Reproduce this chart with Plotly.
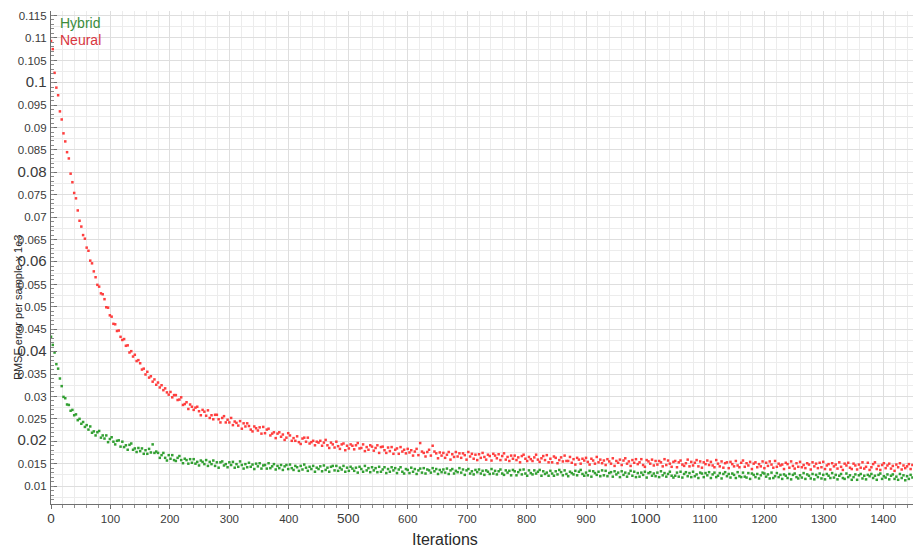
import plotly.graph_objects as go

# ---------------- data (sampled every 3 iterations) ----------------
iteration_step = 3

neural = [
    0.1093, 0.1075, 0.1022, 0.0989, 0.0972, 0.0936, 0.0918, 0.0887, 0.0869, 0.0845,
    0.0831, 0.0797, 0.0778, 0.0754, 0.0742, 0.0715, 0.0692, 0.0679, 0.0660, 0.0652,
    0.0632, 0.0625, 0.0603, 0.0597, 0.0579, 0.0566, 0.0549, 0.0545, 0.0530, 0.0528,
    0.0517, 0.0499, 0.0498, 0.0481, 0.0478, 0.0462, 0.0461, 0.0446, 0.0447, 0.0433,
    0.0426, 0.0428, 0.0413, 0.0414, 0.0398, 0.0401, 0.0389, 0.0393, 0.0379, 0.0381,
    0.0374, 0.0360, 0.0362, 0.0349, 0.0355, 0.0342, 0.0345, 0.0333, 0.0338, 0.0326,
    0.0331, 0.0320, 0.0325, 0.0314, 0.0318, 0.0309, 0.0304, 0.0310, 0.0298, 0.0303,
    0.0303, 0.0292, 0.0293, 0.0298, 0.0281, 0.0283, 0.0287, 0.0272, 0.0282, 0.0277,
    0.0270, 0.0275, 0.0277, 0.0267, 0.0258, 0.0270, 0.0266, 0.0257, 0.0269, 0.0252,
    0.0258, 0.0249, 0.0259, 0.0259, 0.0249, 0.0242, 0.0252, 0.0256, 0.0242, 0.0248,
    0.0242, 0.0252, 0.0236, 0.0244, 0.0241, 0.0235, 0.0245, 0.0228, 0.0240, 0.0233,
    0.0240, 0.0234, 0.0226, 0.0222, 0.0233, 0.0229, 0.0224, 0.0231, 0.0217, 0.0232,
    0.0218, 0.0226, 0.0228, 0.0213, 0.0217, 0.0220, 0.0207, 0.0217, 0.0220, 0.0210,
    0.0215, 0.0203, 0.0208, 0.0218, 0.0213, 0.0201, 0.0207, 0.0201, 0.0211, 0.0198,
    0.0194, 0.0206, 0.0208, 0.0199, 0.0208, 0.0195, 0.0198, 0.0201, 0.0191, 0.0199,
    0.0197, 0.0201, 0.0190, 0.0197, 0.0203, 0.0191, 0.0185, 0.0197, 0.0193, 0.0186,
    0.0199, 0.0189, 0.0183, 0.0193, 0.0195, 0.0180, 0.0190, 0.0184, 0.0193, 0.0190,
    0.0182, 0.0191, 0.0196, 0.0184, 0.0185, 0.0193, 0.0178, 0.0187, 0.0181, 0.0191,
    0.0188, 0.0179, 0.0185, 0.0191, 0.0174, 0.0187, 0.0188, 0.0180, 0.0174, 0.0186,
    0.0178, 0.0187, 0.0172, 0.0181, 0.0184, 0.0172, 0.0187, 0.0177, 0.0181, 0.0173,
    0.0183, 0.0175, 0.0180, 0.0168, 0.0177, 0.0183, 0.0169, 0.0196, 0.0177, 0.0174,
    0.0166, 0.0176, 0.0181, 0.0168, 0.0190, 0.0177, 0.0173, 0.0162, 0.0175, 0.0168,
    0.0174, 0.0163, 0.0170, 0.0176, 0.0159, 0.0171, 0.0165, 0.0176, 0.0166, 0.0173,
    0.0163, 0.0173, 0.0169, 0.0159, 0.0176, 0.0166, 0.0172, 0.0161, 0.0170, 0.0158,
    0.0171, 0.0163, 0.0174, 0.0165, 0.0159, 0.0170, 0.0167, 0.0157, 0.0172, 0.0168,
    0.0162, 0.0171, 0.0158, 0.0167, 0.0173, 0.0159, 0.0165, 0.0156, 0.0168, 0.0161,
    0.0168, 0.0158, 0.0164, 0.0153, 0.0167, 0.0170, 0.0161, 0.0156, 0.0165, 0.0160,
    0.0156, 0.0164, 0.0170, 0.0159, 0.0154, 0.0162, 0.0167, 0.0158, 0.0169, 0.0153,
    0.0161, 0.0153, 0.0166, 0.0163, 0.0151, 0.0158, 0.0164, 0.0155, 0.0168, 0.0156,
    0.0156, 0.0165, 0.0152, 0.0160, 0.0148, 0.0163, 0.0159, 0.0150, 0.0161, 0.0157,
    0.0163, 0.0154, 0.0148, 0.0161, 0.0157, 0.0150, 0.0165, 0.0153, 0.0159, 0.0151,
    0.0157, 0.0147, 0.0160, 0.0155, 0.0150, 0.0162, 0.0145, 0.0156, 0.0152, 0.0159,
    0.0147, 0.0157, 0.0162, 0.0150, 0.0155, 0.0145, 0.0158, 0.0152, 0.0160, 0.0149,
    0.0153, 0.0160, 0.0147, 0.0143, 0.0158, 0.0155, 0.0150, 0.0159, 0.0146, 0.0156,
    0.0148, 0.0156, 0.0153, 0.0144, 0.0160, 0.0147, 0.0157, 0.0150, 0.0143, 0.0154,
    0.0156, 0.0142, 0.0153, 0.0157, 0.0148, 0.0145, 0.0151, 0.0159, 0.0144, 0.0154,
    0.0146, 0.0152, 0.0158, 0.0144, 0.0155, 0.0141, 0.0153, 0.0149, 0.0157, 0.0147,
    0.0154, 0.0146, 0.0142, 0.0158, 0.0150, 0.0144, 0.0155, 0.0141, 0.0151, 0.0153,
    0.0140, 0.0154, 0.0149, 0.0144, 0.0156, 0.0146, 0.0142, 0.0152, 0.0157, 0.0143,
    0.0151, 0.0146, 0.0154, 0.0138, 0.0150, 0.0153, 0.0142, 0.0149, 0.0144, 0.0155,
    0.0140, 0.0152, 0.0145, 0.0155, 0.0148, 0.0141, 0.0156, 0.0143, 0.0150, 0.0146,
    0.0148, 0.0138, 0.0152, 0.0149, 0.0141, 0.0155, 0.0145, 0.0139, 0.0151, 0.0143,
    0.0154, 0.0142, 0.0147, 0.0140, 0.0151, 0.0148, 0.0137, 0.0153, 0.0144, 0.0150,
    0.0140, 0.0152, 0.0142, 0.0154, 0.0138, 0.0146, 0.0149, 0.0137, 0.0151, 0.0144,
    0.0148, 0.0139, 0.0153, 0.0143, 0.0136, 0.0150, 0.0146, 0.0152, 0.0141, 0.0138,
    0.0150, 0.0146, 0.0137, 0.0148, 0.0141, 0.0153, 0.0139, 0.0143, 0.0152, 0.0136,
    0.0142, 0.0149, 0.0153, 0.0138, 0.0145, 0.0136, 0.0147, 0.0151, 0.0140, 0.0146,
    0.0150, 0.0139, 0.0145, 0.0134, 0.0148, 0.0142, 0.0151, 0.0137, 0.0146, 0.0140,
    0.0144, 0.0149, 0.0138, 0.0147,
]

hybrid = [
    0.0433, 0.0415, 0.0398, 0.0372, 0.0362, 0.0340, 0.0323, 0.0299, 0.0296, 0.0282,
    0.0281, 0.0268, 0.0270, 0.0258, 0.0260, 0.0247, 0.0250, 0.0239, 0.0243, 0.0232,
    0.0236, 0.0226, 0.0233, 0.0219, 0.0222, 0.0213, 0.0220, 0.0223, 0.0208, 0.0213,
    0.0206, 0.0213, 0.0198, 0.0205, 0.0209, 0.0199, 0.0193, 0.0201, 0.0202, 0.0188,
    0.0199, 0.0187, 0.0191, 0.0181, 0.0192, 0.0195, 0.0181, 0.0184, 0.0176, 0.0185,
    0.0178, 0.0184, 0.0172, 0.0180, 0.0172, 0.0183, 0.0175, 0.0193, 0.0174, 0.0177,
    0.0174, 0.0163, 0.0169, 0.0174, 0.0163, 0.0157, 0.0169, 0.0161, 0.0169, 0.0158,
    0.0156, 0.0163, 0.0167, 0.0158, 0.0151, 0.0161, 0.0158, 0.0150, 0.0160, 0.0152,
    0.0160, 0.0150, 0.0154, 0.0146, 0.0157, 0.0154, 0.0149, 0.0158, 0.0145, 0.0154,
    0.0149, 0.0157, 0.0145, 0.0153, 0.0141, 0.0153, 0.0155, 0.0146, 0.0149, 0.0142,
    0.0153, 0.0147, 0.0154, 0.0141, 0.0149, 0.0143, 0.0155, 0.0147, 0.0139, 0.0149,
    0.0142, 0.0152, 0.0143, 0.0148, 0.0138, 0.0150, 0.0144, 0.0151, 0.0139, 0.0146,
    0.0147, 0.0139, 0.0151, 0.0140, 0.0144, 0.0149, 0.0137, 0.0145, 0.0140, 0.0147,
    0.0136, 0.0144, 0.0147, 0.0138, 0.0148, 0.0140, 0.0136, 0.0145, 0.0142, 0.0134,
    0.0145, 0.0137, 0.0148, 0.0141, 0.0134, 0.0143, 0.0138, 0.0145, 0.0132, 0.0141,
    0.0138, 0.0144, 0.0133, 0.0146, 0.0136, 0.0141, 0.0132, 0.0143, 0.0145, 0.0135,
    0.0145, 0.0134, 0.0141, 0.0137, 0.0145, 0.0132, 0.0141, 0.0134, 0.0143, 0.0139,
    0.0134, 0.0141, 0.0130, 0.0143, 0.0138, 0.0132, 0.0145, 0.0135, 0.0140, 0.0131,
    0.0142, 0.0135, 0.0140, 0.0131, 0.0143, 0.0132, 0.0137, 0.0142, 0.0129, 0.0138,
    0.0132, 0.0142, 0.0135, 0.0140, 0.0129, 0.0137, 0.0142, 0.0132, 0.0128, 0.0138,
    0.0136, 0.0129, 0.0141, 0.0132, 0.0138, 0.0127, 0.0135, 0.0139, 0.0130, 0.0140,
    0.0128, 0.0137, 0.0135, 0.0130, 0.0140, 0.0133, 0.0138, 0.0127, 0.0136, 0.0131,
    0.0137, 0.0130, 0.0139, 0.0127, 0.0135, 0.0138, 0.0128, 0.0134, 0.0131, 0.0140,
    0.0130, 0.0137, 0.0125, 0.0135, 0.0138, 0.0128, 0.0133, 0.0126, 0.0136, 0.0131,
    0.0137, 0.0128, 0.0134, 0.0125, 0.0135, 0.0132, 0.0127, 0.0138, 0.0128, 0.0134,
    0.0126, 0.0133, 0.0137, 0.0128, 0.0125, 0.0135, 0.0130, 0.0134, 0.0124, 0.0136,
    0.0133, 0.0124, 0.0131, 0.0136, 0.0126, 0.0137, 0.0128, 0.0123, 0.0135, 0.0129,
    0.0126, 0.0135, 0.0128, 0.0132, 0.0136, 0.0123, 0.0133, 0.0127, 0.0130, 0.0123,
    0.0134, 0.0128, 0.0123, 0.0133, 0.0126, 0.0136, 0.0131, 0.0124, 0.0135, 0.0127,
    0.0122, 0.0132, 0.0129, 0.0126, 0.0134, 0.0124, 0.0132, 0.0136, 0.0127, 0.0123,
    0.0130, 0.0124, 0.0134, 0.0121, 0.0133, 0.0129, 0.0125, 0.0132, 0.0122, 0.0135,
    0.0124, 0.0134, 0.0122, 0.0129, 0.0131, 0.0121, 0.0133, 0.0126, 0.0130, 0.0120,
    0.0133, 0.0125, 0.0130, 0.0121, 0.0128, 0.0134, 0.0123, 0.0132, 0.0120, 0.0129,
    0.0121, 0.0130, 0.0125, 0.0132, 0.0119, 0.0129, 0.0131, 0.0123, 0.0128, 0.0122,
    0.0130, 0.0120, 0.0133, 0.0124, 0.0129, 0.0121, 0.0127, 0.0132, 0.0123, 0.0119,
    0.0123, 0.0130, 0.0121, 0.0132, 0.0119, 0.0127, 0.0131, 0.0122, 0.0129, 0.0120,
    0.0132, 0.0122, 0.0126, 0.0118, 0.0130, 0.0128, 0.0120, 0.0129, 0.0124, 0.0131,
    0.0118, 0.0126, 0.0130, 0.0120, 0.0123, 0.0129, 0.0117, 0.0127, 0.0131, 0.0122,
    0.0127, 0.0119, 0.0128, 0.0125, 0.0118, 0.0131, 0.0122, 0.0120, 0.0130, 0.0121,
    0.0119, 0.0129, 0.0116, 0.0128, 0.0125, 0.0120, 0.0127, 0.0117, 0.0124, 0.0130,
    0.0128, 0.0121, 0.0126, 0.0117, 0.0130, 0.0118, 0.0122, 0.0129, 0.0120, 0.0125,
    0.0116, 0.0126, 0.0123, 0.0118, 0.0127, 0.0115, 0.0125, 0.0128, 0.0120, 0.0117,
    0.0124, 0.0119, 0.0129, 0.0116, 0.0126, 0.0123, 0.0117, 0.0127, 0.0115, 0.0125,
    0.0120, 0.0128, 0.0117, 0.0125, 0.0115, 0.0127, 0.0123, 0.0118, 0.0129, 0.0119,
    0.0125, 0.0115, 0.0123, 0.0127, 0.0118, 0.0116, 0.0128, 0.0120, 0.0124, 0.0114,
    0.0120, 0.0126, 0.0114, 0.0124, 0.0127, 0.0117, 0.0123, 0.0115, 0.0125, 0.0122,
    0.0127, 0.0118, 0.0123, 0.0114, 0.0125, 0.0128, 0.0116, 0.0122, 0.0119, 0.0126,
    0.0115, 0.0123, 0.0126, 0.0116, 0.0121, 0.0114, 0.0127, 0.0118, 0.0124, 0.0113,
    0.0122, 0.0116, 0.0125, 0.0119,
]

iterations = list(range(0, iteration_step * len(neural), iteration_step))

series_names = ["Hybrid", "Neural"]

y_tick_values = [0.01, 0.015, 0.02, 0.025, 0.03, 0.035, 0.04, 0.045, 0.05, 0.055,
                 0.06, 0.065, 0.07, 0.075, 0.08, 0.085, 0.09, 0.095, 0.1, 0.105,
                 0.11, 0.115]
y_tick_labels = ["0.01", "0.015", "0.02", "0.025", "0.03", "0.035", "0.04", "0.045",
                 "0.05", "0.055", "0.06", "0.065", "0.07", "0.075", "0.08", "0.085",
                 "0.09", "0.095", "0.1", "0.105", "0.11", "0.115"]
y_large_labels = ["0.02", "0.04", "0.06", "0.08", "0.1"]

x_tick_values = [0, 100, 200, 300, 400, 500, 600, 700, 800, 900, 1000, 1100, 1200, 1300, 1400]
x_tick_labels = ["0", "100", "200", "300", "400", "500", "600", "700", "800", "900",
                 "1000", "1100", "1200", "1300", "1400"]
x_large_labels = ["0", "500", "1000"]

# ---------------- styling ----------------
FONT = "Liberation Sans, Arial, sans-serif"
RED = "#ff2b2b"
GREEN = "#1e961e"
TEXT = "#3a3a3a"


def sized(label, large, big_px, small_px):
    px = big_px if label in large else small_px
    return f'<span style="font-size:{px}px">{label}</span>'


y_text = [sized(t, y_large_labels, 15, 11.5) for t in y_tick_labels]
x_text = [sized(t, x_large_labels, 13.5, 11.5) for t in x_tick_labels]

fig = go.Figure()

fig.add_trace(go.Scatter(
    x=iterations, y=hybrid, mode="markers", name=series_names[0],
    marker=dict(color=GREEN, size=2.5, symbol="square", line=dict(width=0)),
    opacity=0.9, showlegend=False,
))
fig.add_trace(go.Scatter(
    x=iterations, y=neural, mode="markers", name=series_names[1],
    marker=dict(color=RED, size=2.5, symbol="square", line=dict(width=0)),
    opacity=0.9, showlegend=False,
))
# empty helper trace for the overlay axis carrying the fine y tick marks
fig.add_trace(go.Scatter(x=[None], y=[None], yaxis="y2", showlegend=False,
                         hoverinfo="skip"))

y_range = [0.006, 0.116]
x_range = [0, 1450]

fig.update_layout(
    width=914, height=548,
    margin=dict(l=51, r=1, t=11, b=44),
    paper_bgcolor="white", plot_bgcolor="white",
    font=dict(family=FONT, color=TEXT, size=12),
    xaxis=dict(
        range=x_range, tickmode="array", tickvals=x_tick_values, ticktext=x_text,
        showline=True, linecolor="#707070", linewidth=1,
        ticks="outside", ticklen=4, tickcolor="#707070",
        showgrid=True, gridcolor="#dedede", gridwidth=1, zeroline=False,
        minor=dict(dtick=20, tick0=0, ticks="outside", ticklen=3, tickcolor="#909090",
                   showgrid=True, gridcolor="#ececec"),
        tickfont=dict(family=FONT, color=TEXT),
    ),
    yaxis=dict(
        range=y_range, tickmode="array", tickvals=y_tick_values, ticktext=y_text,
        showline=True, linecolor="#707070", linewidth=1,
        ticks="inside", ticklen=6, tickcolor="#707070",
        showgrid=True, gridcolor="#dedede", zeroline=False,
        minor=dict(dtick=0.0025, tick0=0, ticks="", showgrid=True, gridcolor="#ececec"),
        tickfont=dict(family=FONT, color=TEXT),
        ticklabelstandoff=1,
    ),
    yaxis2=dict(
        range=y_range, overlaying="y", side="left", anchor="x",
        tickmode="linear", tick0=0, dtick=0.001,
        ticks="inside", ticklen=3, tickcolor="#8a8a8a",
        showticklabels=False, showgrid=False, zeroline=False, showline=False,
    ),
    annotations=[
        dict(text=series_names[0], x=0.008, y=0.976, xref="paper", yref="paper",
             xanchor="left", yanchor="middle", showarrow=False,
             font=dict(family=FONT, size=14, color="#3b8c3b")),
        dict(text=series_names[1], x=0.008, y=0.941, xref="paper", yref="paper",
             xanchor="left", yanchor="middle", showarrow=False,
             font=dict(family=FONT, size=14, color="#d9363e")),
        dict(text="RMSE error per sample x 1e3", x=-0.038, y=0.40, xref="paper",
             yref="paper", xanchor="center", yanchor="middle", textangle=-90,
             showarrow=False, font=dict(family=FONT, size=11, color="#2a2a2a")),
        dict(text="Iterations", x=0.457, y=-0.071, xref="paper", yref="paper",
             xanchor="center", yanchor="middle", showarrow=False,
             font=dict(family=FONT, size=16, color="#2a2a2a")),
    ],
)

fig.write_html("out.html")
